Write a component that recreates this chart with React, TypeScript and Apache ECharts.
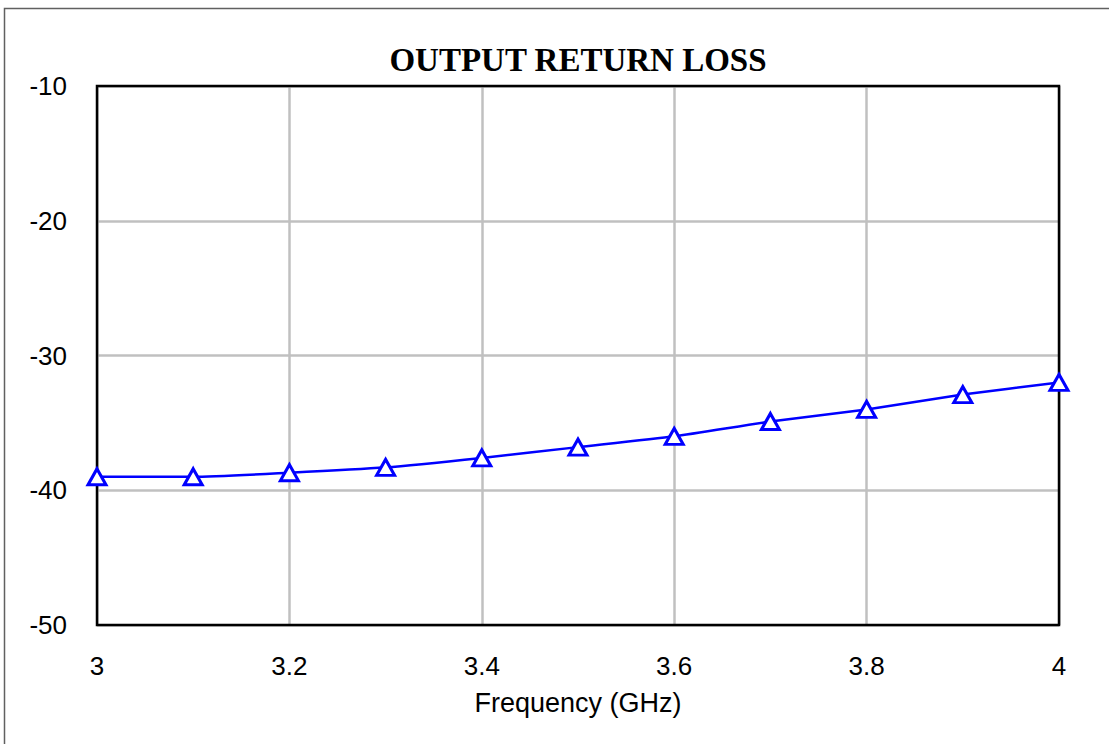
import React, { useEffect, useRef } from "react";
import * as echarts from "echarts";

const frequencies = [3.0, 3.1, 3.2, 3.3, 3.4, 3.5, 3.6, 3.7, 3.8, 3.9, 4.0];
const returnLoss = [-39.0, -39.0, -38.7, -38.3, -37.6, -36.8, -36.0, -34.9, -34.0, -32.9, -32.0];
const chartTitle = "OUTPUT RETURN LOSS";
const xAxisName = "Frequency (GHz)";

export default function App() {
  const ref = useRef<HTMLDivElement>(null);
  useEffect(() => {
    document.body.style.margin = "0";
    const chart = echarts.init(ref.current!, null, { renderer: "svg" });
    const labelFont = { fontFamily: "'Liberation Sans', Arial, sans-serif", fontSize: 26, color: "#000" };
    chart.setOption({
      animation: false,
      backgroundColor: "#fff",
      graphic: [
        {
          type: "rect",
          shape: { x: 4.5, y: 8.5, width: 1200, height: 800 },
          style: { fill: "none", stroke: "#606060", lineWidth: 1.5 },
          z: -1,
        },
        {
          type: "text",
          x: 578,
          y: 60,
          style: {
            text: chartTitle,
            font: "bold 33px 'Liberation Serif', 'Times New Roman', serif",
            fill: "#000",
            textAlign: "center",
            textVerticalAlign: "middle",
          },
        },
      ],
      grid: {
        left: 97,
        right: 50,
        top: 86,
        bottom: 119,
        show: true,
        borderColor: "#000",
        borderWidth: 2.5,
        backgroundColor: "transparent",
        z: 10,
      },
      xAxis: {
        type: "value",
        min: 3,
        max: 4,
        interval: 0.2,
        name: xAxisName,
        nameLocation: "middle",
        nameGap: 64,
        nameTextStyle: { ...labelFont, fontSize: 27 },
        axisLine: { show: false },
        axisTick: { show: false },
        axisLabel: { ...labelFont, margin: 28 },
        splitLine: { show: true, lineStyle: { color: "#c0c0c0", width: 2.5 } },
      },
      yAxis: {
        type: "value",
        min: -50,
        max: -10,
        interval: 10,
        axisLine: { show: false },
        axisTick: { show: false },
        axisLabel: { ...labelFont, margin: 30 },
        splitLine: { show: true, lineStyle: { color: "#c0c0c0", width: 2.5 } },
      },
      series: [
        {
          type: "line",
          data: frequencies.map((f, i) => [f, returnLoss[i]]),
          smooth: 0.2,
          clip: false,
          symbol: "triangle",
          symbolSize: [18, 16],
          lineStyle: { color: "#0000ff", width: 2.5 },
          itemStyle: { color: "#ffffff", borderColor: "#0000ff", borderWidth: 3 },
          z: 20,
        },
      ],
    });
    return () => chart.dispose();
  }, []);
  return <div ref={ref} style={{ width: 1109, height: 744 }} />;
}
